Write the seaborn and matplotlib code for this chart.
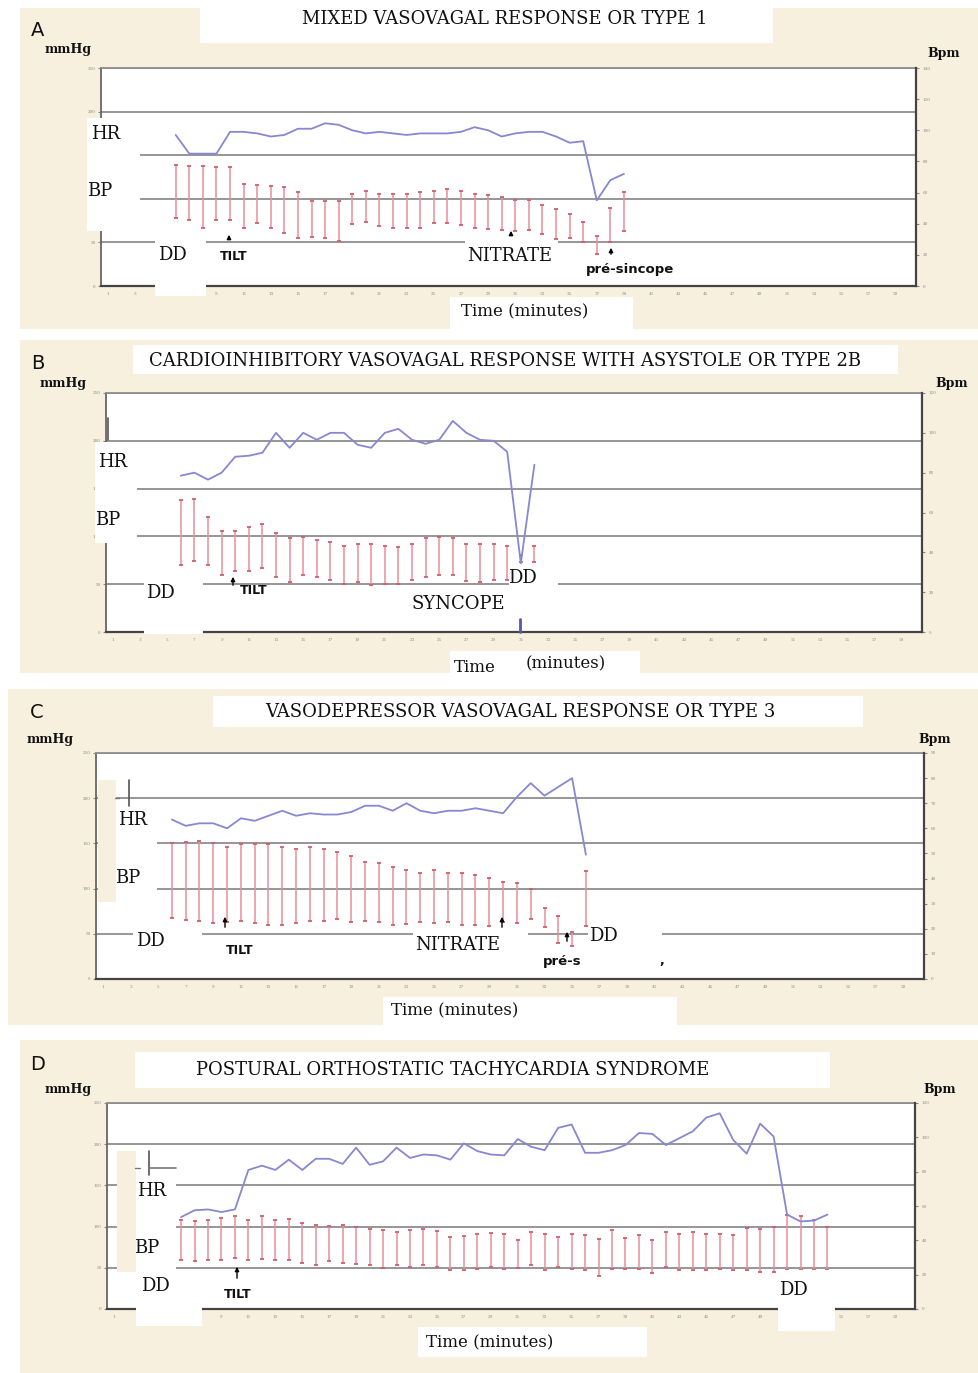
import matplotlib
matplotlib.use("Agg")
import matplotlib.pyplot as plt
from matplotlib.patches import Rectangle, FancyArrowPatch
from matplotlib.lines import Line2D
import seaborn as sns
import numpy as np

sns.set_style("white")
plt.rcParams["font.family"] = ["DejaVu Serif", "DejaVu Sans"]
plt.rcParams["text.color"] = "black"

# ---------------- data ----------------
# BP = systolic / diastolic in mmHg (left axis), HR in bpm (right axis)
# first reading of every panel sits on minute 6
A_title = "MIXED VASOVAGAL RESPONSE OR TYPE 1"
A_sys = [139, 138, 137.5, 136, 136.5, 117, 116, 115, 113, 107.5, 98, 98, 98, 106, 109, 106, 105,
         106, 107.5, 109, 111, 109, 106, 104, 101.5, 98.5, 98.5, 93, 88, 83, 73, 57.5, 90, 107.5]
A_dia = [78.5, 75.5, 66.5, 76, 76, 67, 72.5, 66.5, 61, 55, 56.5, 55.5, 52, 71, 73, 69, 67,
         67, 67, 72, 72, 70, 66.5, 65, 64, 63, 64, 60, 54, 55, 51, 36.5, 51, 63]
A_hr = [97, 85, 85, 85, 99, 99, 98, 96, 97, 101, 101, 104.5, 103.5, 100, 98, 99, 98,
        97, 98, 98, 98, 99, 102, 100, 96, 98, 99, 99, 96, 92, 93, 55, 68, 72]

B_title = "CARDIOINHIBITORY VASOVAGAL RESPONSE WITH ASYSTOLE OR TYPE 2B"
B_sys = [138, 139, 120.5, 105.5, 105.5, 110, 112.5, 104, 98, 99.5, 96, 94.5, 90, 92.5,
         92.5, 90, 88.5, 92.5, 98.5, 99.5, 98.5, 92.5, 92.5, 92.5, 90, 80.5, 90]
B_dia = [70, 74.5, 70, 60, 64, 64, 66.5, 57.5, 52, 60, 57.5, 54, 50.5, 52,
         49, 50.5, 50.5, 54, 57.5, 59.5, 59.5, 53.5, 52.5, 54.5, 54, 73.5, 73.5]
B_hr = [78.5, 80, 76.5, 80, 88, 88.5, 90, 100, 92.5, 100, 96.5, 100, 100, 94,
        92.5, 100, 102, 96.5, 94.5, 96.5, 106, 100, 96.5, 96, 90.5, 34.5, 84]

C_title = "VASODEPRESSOR VASOVAGAL RESPONSE OR TYPE 3"
C_sys = [150, 152, 153, 150, 146.5, 149, 149, 149, 146.5, 144, 146.5, 144, 140, 136.5, 129.5, 128,
         124, 120.5, 117.5, 120.5, 117.5, 117.5, 114.5, 111.5, 107.5, 106, 99.5, 78.5, 70, 52, 120]
C_dia = [67.5, 65.5, 64.5, 62, 63.5, 64.5, 62.5, 60, 60, 62, 64.5, 64.5, 66, 63, 64.5, 63.5,
         60, 60.5, 63, 62, 63, 60, 60, 59, 63, 62, 66, 57.5, 39.5, 37, 59]
C_hr = [63.5, 61, 62, 62, 60, 64, 63, 65, 67, 65, 66, 65.5, 65.5, 66.5, 69, 69,
        67, 70, 67, 66, 67, 67, 68, 67, 66, 72.5, 78, 73, 76.5, 80, 49.5]

D_title = "POSTURAL ORTHOSTATIC TACHYCARDIA SYNDROME"
D_sys = [108.5, 107, 108.5, 110.5, 113, 108.5, 112.5, 108.5, 109, 104.5, 102.5, 101, 102.5, 99,
         97.5, 96, 93, 96, 97.5, 95, 87.5, 89, 91, 92, 91.5, 84, 94, 91.5, 87.5, 91.5, 90, 85,
         95.5, 86, 90, 84, 93, 91.5, 94, 91.5, 91.5, 90, 98.5, 97, 99.5, 114.5, 112.5, 107.5, 100]
D_dia = [60, 58.5, 60, 60, 62.5, 60, 60.5, 60, 60, 56, 54, 58.5, 56, 54.5,
         53, 50, 53, 50.5, 53, 50.5, 47, 47.5, 48.5, 50.5, 48.5, 50, 54, 47.5, 51, 49, 47, 40.5,
         49, 49, 49, 43.5, 51.5, 47.5, 47.5, 47.5, 49, 47, 47, 45, 45, 47.5, 47, 47.5, 47]
D_hr = [53.5, 57.5, 58, 56.5, 58, 81, 83.5, 81, 87, 81, 87.5, 87.5, 84.5, 94,
        84, 86, 94, 88, 90, 89.5, 87, 96.5, 92, 90, 89.5, 99, 94.5, 92.5, 105.5, 107.5, 91, 91,
        92.5, 95.5, 102.5, 102, 95.5, 99.5, 103.5, 111.5, 114, 98.5, 90.5, 108, 100.5, 55, 51, 51.5, 55]

START_MIN = 6
mmhg_ticks = [0, 50, 100, 150, 200, 250]
minute_ticks = list(range(1, 60, 2))

# ---------------- styling ----------------
W, H = 979, 1373
BEIGE = "#f8f0df"
HR_COL = "#8787d2"
BP_COL = "#e8909b"
CAP_COL = "#cf5f6b"
GRID = "#8e8e8e"

fig = plt.figure(figsize=(W / 100, H / 100), dpi=100)
fig.patch.set_facecolor("white")


def fx(x):
    return x / W


def fy(y):
    return 1 - y / H


def box(x0, y0, x1, y1, color="white", z=1):
    fig.add_artist(Rectangle((fx(x0), fy(y1)), (x1 - x0) / W, (y1 - y0) / H,
                             transform=fig.transFigure, facecolor=color,
                             edgecolor="none", zorder=z))


def label(x, y, s, size=13, **kw):
    fig.text(fx(x), fy(y), s, ha="center", va="center", fontsize=size, zorder=5,
             color="#111111", **kw)


def arrow(x, y_tail, y_head):
    fig.add_artist(FancyArrowPatch((fx(x), fy(y_tail)), (fx(x), fy(y_head)),
                                   transform=fig.transFigure, arrowstyle="-|>",
                                   mutation_scale=6, lw=1, color="black", zorder=5))


def seg(xa, ya, xb, yb, color="#555555", lw=1.0):
    fig.add_artist(Line2D([fx(xa), fx(xb)], [fy(ya), fy(yb)], transform=fig.transFigure,
                          color=color, lw=lw, zorder=2))


def panel(pos, sys_, dia_, hr_, hr_max, hr_step):
    x0, y0, x1, y1 = pos
    ax = fig.add_axes([fx(x0), fy(y1), (x1 - x0) / W, (y1 - y0) / H])
    ax.set_facecolor("white")
    cats = np.arange(START_MIN, START_MIN + len(sys_))
    ax.vlines(cats, dia_, sys_, color=BP_COL, lw=1.1, zorder=3)
    ax.plot(cats, sys_, ls="none", marker="_", ms=3, mew=1.3, color=CAP_COL, zorder=4)
    ax.plot(cats, dia_, ls="none", marker="_", ms=3, mew=1.3, color=CAP_COL, zorder=4)
    ax.set_ylim(0, 250)
    ax.set_yticks(mmhg_ticks)
    ax.set_xticks(minute_ticks)
    ax.tick_params(labelsize=3, colors="#888888", length=2, width=0.8, pad=2)
    ax.yaxis.grid(True, color=GRID, lw=1.3)
    ax.set_axisbelow(True)
    ax.spines["top"].set_color(GRID)
    ax.spines["top"].set_linewidth(1.3)
    ax.spines["left"].set_color("#666666")
    ax.spines["left"].set_linewidth(1.3)
    ax.spines["bottom"].set_color("#444444")
    ax.spines["bottom"].set_linewidth(1.6)
    ax.spines["right"].set_visible(False)

    ax2 = ax.twinx()
    sns.lineplot(x=cats, y=hr_, ax=ax2, color=HR_COL, lw=1.3, zorder=5)
    ax2.set_ylim(0, hr_max)
    ax2.set_yticks(np.arange(0, hr_max + 1, hr_step))
    ax2.tick_params(labelsize=3, colors="#888888", length=2, width=0.8, pad=3)
    ax2.set_xlabel("")
    ax2.set_ylabel("")
    for s in ["top", "left", "bottom"]:
        ax2.spines[s].set_visible(False)
    ax2.spines["right"].set_color("#444444")
    ax2.spines["right"].set_linewidth(1.6)
    ax.set_xlim(0.5, 60.5)
    return ax, ax2


# ---------------- backgrounds ----------------
box(20, 8, 979, 329, BEIGE, -1)
box(20, 340, 979, 673, BEIGE, -1)
box(8, 689, 979, 1025, BEIGE, -1)
box(20, 1040, 979, 1373, BEIGE, -1)

# ---------------- panel A ----------------
panel((101, 68, 916, 286), A_sys, A_dia, A_hr, 140, 20)
box(200, 4, 773, 43)
box(87, 118, 140, 231)
box(155, 239, 206, 296)
box(465, 240, 558, 268)
box(450, 297, 633, 329)
label(505, 19, A_title, 13)
label(38, 31, "A", 14, family="DejaVu Sans")
label(68, 50, "mmHg", 9, weight="bold")
label(944, 53, "Bpm", 9, weight="bold")
label(106, 134, "HR", 13)
label(100, 191, "BP", 13)
label(172, 255, "DD", 13)
label(234, 256, "TILT", 9, family="DejaVu Sans", weight="bold")
label(510, 256, "NITRATE", 13)
label(630, 270, "pré-sincope", 9.5, family="DejaVu Sans", weight="bold")
label(525, 312, "Time (minutes)", 12)
arrow(229, 242, 232)
arrow(511, 238, 228)
arrow(611, 257, 245)

# ---------------- panel B ----------------
panel((106, 393, 922, 632), B_sys, B_dia, B_hr, 120, 20)
box(133, 345, 898, 374)
box(95, 442, 137, 543)
box(144, 573, 203, 634)
box(509, 580, 558, 589)
box(450, 651, 640, 680)
label(505, 361, B_title, 13)
label(38, 364, "B", 14, family="DejaVu Sans")
label(63, 383, "mmHg", 9, weight="bold")
label(952, 383, "Bpm", 9, weight="bold")
label(113, 462, "HR", 13)
label(108, 520, "BP", 13)
label(160, 593, "DD", 13)
label(254, 591, "TILT", 9, family="DejaVu Sans", weight="bold")
label(458, 604, "SYNCOPE", 13)
label(522, 578, "DD", 13)
label(475, 668, "Time", 12)
label(566, 664, "(minutes)", 12)
arrow(233, 588, 574)
seg(108, 418, 108, 440, "#555555", 1.2)
seg(520, 619, 520, 632, "#5555bb", 2)

# ---------------- panel C ----------------
panel((96, 753, 924, 979), C_sys, C_dia, C_hr, 90, 10)
box(213, 696, 863, 727)
box(98, 780, 116, 902, BEIGE)
box(116, 830, 157, 902)
box(133, 926, 202, 958)
box(413, 929, 528, 960)
box(588, 928, 662, 972)
box(383, 997, 677, 1026)
label(520, 712, C_title, 13)
label(37, 713, "C", 14, family="DejaVu Sans")
label(50, 740, "mmHg", 9, weight="bold")
label(935, 739, "Bpm", 9, weight="bold")
label(133, 820, "HR", 13)
label(128, 878, "BP", 13)
label(150, 941, "DD", 13)
label(240, 950, "TILT", 9, family="DejaVu Sans", weight="bold")
label(458, 945, "NITRATE", 13)
label(562, 961, "pré-s", 9.5, family="DejaVu Sans", weight="bold")
label(603, 936, "DD", 13)
label(662, 960, ",", 9, family="DejaVu Sans", weight="bold")
label(455, 1011, "Time (minutes)", 12)
arrow(225, 930, 914)
arrow(502, 930, 914)
arrow(567, 944, 929)
seg(129, 780, 129, 806, "#555555", 1.2)
seg(115, 798, 119, 798, "#777777", 1.0)

# ---------------- panel D ----------------
panel((107, 1103, 915, 1309), D_sys, D_dia, D_hr, 120, 20)
box(135, 1052, 830, 1088)
box(117, 1151, 136, 1272, BEIGE)
box(136, 1176, 176, 1272)
box(136, 1272, 202, 1326)
box(778, 1270, 835, 1331)
box(418, 1327, 647, 1357)
label(453, 1070, D_title, 13)
label(38, 1064, "D", 14, family="DejaVu Sans")
label(68, 1090, "mmHg", 9, weight="bold")
label(940, 1090, "Bpm", 9, weight="bold")
label(152, 1191, "HR", 13)
label(147, 1248, "BP", 13)
label(155, 1286, "DD", 13)
label(238, 1294, "TILT", 9, family="DejaVu Sans", weight="bold")
label(793, 1290, "DD", 13)
label(490, 1343, "Time (minutes)", 12)
arrow(237, 1281, 1264)
seg(149, 1151, 149, 1175, "#555555", 1.2)
seg(149, 1168, 176, 1168, "#777777", 1.2)
seg(135, 1168, 140, 1168, "#777777", 1.0)

fig.savefig("out.png", dpi=100)
